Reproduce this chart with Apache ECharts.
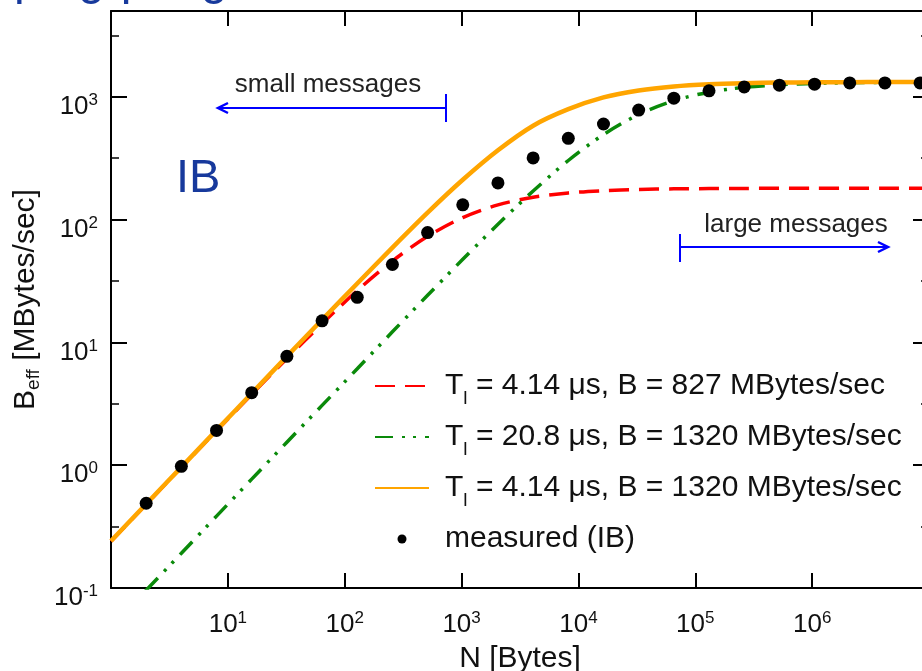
<!DOCTYPE html>
<html>
<head>
<meta charset="utf-8">
<script src="https://cdn.jsdelivr.net/npm/echarts@6/dist/echarts.min.js"></script>
<style>
html, body { margin: 0; padding: 0; background: #fff; }
#chart { width: 922px; height: 671px; }
</style>
</head>
<body>
<div id="chart"></div>
<script>
// message size N [Bytes] for the model curves
const modelSizes = [1, 2, 4, 8, 16, 32, 64, 128, 256, 512, 1024, 2048, 4096, 8192, 16384,
  32768, 65536, 131072, 262144, 524288, 1048576, 2097152, 4194304, 8388608, 10000000]
// B_eff [MBytes/sec]
const fitShortBw = [0.24, 0.48, 0.96, 1.91, 3.78, 7.4, 14.2, 26.4, 46, 73, 104, 132, 152, 165, 172,
  176, 178, 179, 179.5, 180, 180, 180, 180, 180, 180]
const fitLongLat = [0.048, 0.096, 0.192, 0.385, 0.77, 1.54, 3.07, 6.1, 12.2, 24.2, 47.5, 91.6, 171, 303, 493,
  718, 930, 1091, 1195, 1254, 1286, 1303, 1311, 1316, 1316]
const fitBest = [0.2415, 0.483, 0.965, 1.93, 3.85, 7.69, 15.3, 30.2, 59.2, 114, 211, 367, 582, 793, 989,
  1125, 1214, 1265, 1292, 1306, 1313, 1317, 1318, 1319, 1319]

// measured ping-pong points
const measuredSizes = [2, 4, 8, 16, 32, 64, 128, 256, 512, 1024, 2048, 4096, 8192, 16384, 32768,
  65536, 131072, 262144, 524288, 1048576, 2097152, 4194304, 8388608]
const measuredIB = [0.49, 0.98, 1.92, 3.9, 7.7, 15.0, 23.3, 43.1, 78.5, 132, 199, 318, 459, 601, 780,
  975, 1119, 1205, 1244, 1267, 1299, 1299, 1299]

const seriesNames = [
  'T_l = 4.14 μs, B = 827 MBytes/sec',
  'T_l = 20.8 μs, B = 1320 MBytes/sec',
  'T_l = 4.14 μs, B = 1320 MBytes/sec',
  'measured (IB)'
]

const FONT = 'Liberation Sans, Arial, Helvetica, sans-serif'
const TXT = '#111'
const X_MIN = 1
const X_MAX = 1e7
const Y_MIN = 0.1
const Y_MAX = 5000
const HALF = Math.sqrt(10) // minor ticks sit half a decade off the major ones

function powLabel (v) {
  const lg = Math.log10(v)
  const e = Math.round(lg)
  if (Math.abs(lg - e) > 1e-6) return ''
  return '{b|10}{e|' + e + '}'
}
function powRich () {
  return {
    b: { fontSize: 26, lineHeight: 30, color: TXT, fontFamily: FONT },
    e: { fontSize: 17, lineHeight: 14, verticalAlign: 'top', color: TXT, fontFamily: FONT }
  }
}
function line () {
  return { show: true, lineStyle: { color: '#000', width: 2 } }
}
function tick (len, w) {
  return { show: true, inside: true, length: len, lineStyle: { color: '#000', width: w } }
}
function pairs (xs, ys) {
  return xs.map((x, i) => [x, ys[i]])
}
// plain frame / minor-tick axis without labels
function bareY (min, max, pos, withLine, len) {
  return {
    type: 'log', logBase: 10, min: min, max: max, position: pos,
    axisLine: withLine ? line() : { show: false },
    axisTick: tick(len, withLine ? 2 : 1.5),
    splitLine: { show: false },
    axisLabel: { show: false }
  }
}

const chart = echarts.init(document.getElementById('chart'))
const options = {
  backgroundColor: '#fff',
  animation: false,
  grid: { left: 111, top: 11, right: -7, bottom: 83, outerBoundsMode: 'none' },
  legend: {
    data: seriesNames.map((n, i) => i < 3 ? { name: n, itemStyle: { opacity: 0 } } : { name: n }),
    orient: 'vertical',
    left: 374,
    top: 371,
    padding: 0,
    itemWidth: 54,
    itemHeight: 9,
    itemGap: 14,
    formatter: function (name) {
      if (name.indexOf('T_l') === 0) return '{t|T}{s|l}{t|' + name.slice(3) + '}'
      return '{t|' + name + '}'
    },
    textStyle: {
      padding: [0, 0, 0, 11],
      rich: {
        t: { fontSize: 30, lineHeight: 44, color: TXT, fontFamily: FONT },
        s: { fontSize: 19, lineHeight: 14, verticalAlign: 'bottom', color: TXT, fontFamily: FONT }
      }
    }
  },
  xAxis: [
    {
      type: 'log',
      logBase: 10,
      min: X_MIN,
      max: X_MAX,
      name: 'N [Bytes]',
      nameLocation: 'middle',
      nameGap: 52,
      nameTextStyle: { fontSize: 30, lineHeight: 32, color: TXT, fontFamily: FONT },
      axisLine: line(),
      axisTick: tick(15, 2),
      splitLine: { show: false },
      axisLabel: { margin: 22, showMinLabel: false, showMaxLabel: false, formatter: powLabel, rich: powRich() }
    },
    {
      type: 'log',
      logBase: 10,
      min: X_MIN,
      max: X_MAX,
      position: 'top',
      axisLine: line(),
      axisTick: tick(15, 2),
      splitLine: { show: false },
      axisLabel: { show: false }
    }
  ],
  yAxis: [
    {
      type: 'log',
      logBase: 10,
      min: Y_MIN,
      max: Y_MAX,
      position: 'left',
      name: '{b|B}{s|eff}{b| [MBytes/sec]}',
      nameLocation: 'middle',
      nameRotate: 90,
      nameGap: 46,
      nameTextStyle: {
        rich: {
          b: { fontSize: 30, lineHeight: 34, color: TXT, fontFamily: FONT },
          s: { fontSize: 19, lineHeight: 14, verticalAlign: 'bottom', color: TXT, fontFamily: FONT }
        }
      },
      axisLine: line(),
      axisTick: tick(16, 2),
      splitLine: { show: false },
      axisLabel: { margin: 13, padding: [20, 0, 0, 0], formatter: powLabel, rich: powRich() }
    },
    bareY(Y_MIN, Y_MAX, 'right', true, 16),
    bareY(Y_MIN / HALF, Y_MAX / HALF, 'left', false, 8),
    bareY(Y_MIN / HALF, Y_MAX / HALF, 'right', false, 8)
  ],
  graphic: [
    {
      type: 'text', x: 14, y: 5, silent: true,
      style: { text: 'ping-pong', fontSize: 48, fontFamily: FONT, fill: '#17399c', verticalAlign: 'bottom' }
    },
    {
      type: 'text', x: 176, y: 179, silent: true,
      style: { text: 'IB', fontSize: 47, fontFamily: FONT, fill: '#17399c', verticalAlign: 'middle' }
    },
    {
      type: 'text', x: 328, y: 85, silent: true,
      style: { text: 'small messages', fontSize: 26, fontFamily: FONT, fill: '#222', align: 'center', verticalAlign: 'middle' }
    },
    { type: 'line', silent: true, shape: { x1: 446, y1: 108, x2: 219, y2: 108 }, style: { stroke: '#0000ff', lineWidth: 2 } },
    { type: 'line', silent: true, shape: { x1: 446, y1: 94, x2: 446, y2: 122 }, style: { stroke: '#0000ff', lineWidth: 2 } },
    { type: 'polyline', silent: true, shape: { points: [[228, 103], [218, 108], [228, 113]] }, style: { stroke: '#0000ff', lineWidth: 2.5, fill: null } },
    {
      type: 'text', x: 796, y: 225, silent: true,
      style: { text: 'large messages', fontSize: 26, fontFamily: FONT, fill: '#222', align: 'center', verticalAlign: 'middle' }
    },
    { type: 'line', silent: true, shape: { x1: 680, y1: 247, x2: 888, y2: 247 }, style: { stroke: '#0000ff', lineWidth: 2 } },
    { type: 'line', silent: true, shape: { x1: 680, y1: 234, x2: 680, y2: 262 }, style: { stroke: '#0000ff', lineWidth: 2 } },
    { type: 'polyline', silent: true, shape: { points: [[878, 242], [888, 247], [878, 252]] }, style: { stroke: '#0000ff', lineWidth: 2.5, fill: null } }
  ],
  series: [
    {
      name: seriesNames[0],
      type: 'line',
      data: pairs(modelSizes, fitShortBw),
      symbol: 'none',
      smooth: 0.3,
      z: 2,
      itemStyle: { color: '#ff0000' },
      lineStyle: { color: '#ff0000', width: 3.5, type: [20, 10] }
    },
    {
      name: seriesNames[1],
      type: 'line',
      data: pairs(modelSizes, fitLongLat),
      symbol: 'none',
      smooth: 0.3,
      z: 2,
      itemStyle: { color: '#0a8a0a' },
      lineStyle: { color: '#0a8a0a', width: 3.5, type: [18, 9, 3, 8, 3, 9] }
    },
    {
      name: seriesNames[2],
      type: 'line',
      data: pairs(modelSizes, fitBest),
      symbol: 'none',
      smooth: 0.3,
      z: 3,
      itemStyle: { color: '#ffa500' },
      lineStyle: { color: '#ffa500', width: 4.5 }
    },
    {
      name: seriesNames[3],
      type: 'scatter',
      data: pairs(measuredSizes, measuredIB),
      symbol: 'circle',
      symbolSize: 13,
      z: 4,
      itemStyle: { color: '#000', opacity: 1 }
    }
  ]
}
chart.setOption(options)
</script>
</body>
</html>
